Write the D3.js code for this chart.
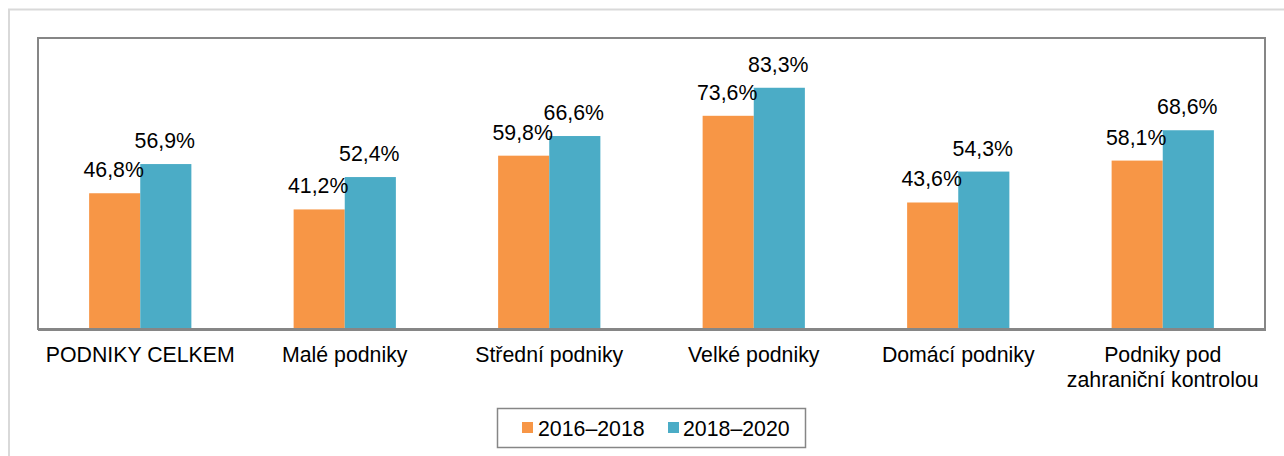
<!DOCTYPE html>
<html><head><meta charset="utf-8">
<script src="https://cdn.jsdelivr.net/npm/d3@7/dist/d3.min.js"></script>
<style>html,body{margin:0;padding:0;background:#fff;overflow:hidden}svg{display:block}text{font-family:"Liberation Sans",Arial,sans-serif;fill:#000}</style>
</head><body><svg id="c" width="1284" height="456"></svg>
<script>
const categories = [["PODNIKY CELKEM"],["Malé podniky"],["Střední podniky"],["Velké podniky"],["Domácí podniky"],["Podniky pod","zahraniční kontrolou"]];
const series1Name = "2016–2018";
const series2Name = "2018–2020";
const series1 = [46.8, 41.2, 59.8, 73.6, 43.6, 58.1];
const series2 = [56.9, 52.4, 66.6, 83.3, 54.3, 68.6];
const colors = ["#F79646", "#4BACC6"];
const FS = 21.3;

const svg = d3.select("#c");
// outer frame
svg.append("rect").attr("x",9).attr("y",9.5).attr("width",1300).attr("height",470)
  .attr("fill","none").attr("stroke","#d9d9d9").attr("stroke-width",2);

const L=38, R=1265, T=38, B=329;
const x = d3.scaleBand().domain(d3.range(categories.length)).range([L,R]).paddingInner(0.5).paddingOuter(0.25);
const xs = d3.scaleBand().domain([0,1]).range([0,x.bandwidth()]);
const y = d3.scaleLinear().domain([0,100]).range([B-0.5,T+1.5]);

svg.append("rect").attr("x",L).attr("y",T).attr("width",R-L).attr("height",B-T)
  .attr("fill","none").attr("stroke","#868686").attr("stroke-width",2);

const data = categories.map((c,i)=>({i, vals:[series1[i],series2[i]]}));
const g = svg.append("g");
data.forEach(d=>{
  d.vals.forEach((v,k)=>{
    g.append("rect").attr("x",x(d.i)+xs(k)).attr("width",xs.bandwidth())
      .attr("y",y(v)).attr("height",y(0)-y(v)).attr("fill",colors[k]);
  });
});
data.forEach(d=>{
  d.vals.forEach((v,k)=>{
    g.append("text").attr("x",x(d.i)+xs(k)+xs.bandwidth()/2-1).attr("y",y(v)-16)
      .attr("text-anchor","middle").attr("font-size",FS).text(d3.format(".1f")(v).replace(".",",")+"%");
  });
});
// axis line
svg.append("line").attr("x1",L).attr("x2",R+1).attr("y1",B+0.5).attr("y2",B+0.5).attr("stroke","#868686").attr("stroke-width",3);

// category labels
const xc = d3.scaleBand().domain(d3.range(categories.length)).range([L,R]);
categories.forEach((c,i)=>{
  const t = svg.append("text").attr("text-anchor","middle").attr("font-size",FS)
    .attr("x",xc(i)+xc.bandwidth()/2).attr("y",362);
  c.forEach((line,j)=>t.append("tspan").attr("x",xc(i)+xc.bandwidth()/2).attr("dy",j?25:0).text(line));
});

// legend
svg.append("rect").attr("x",497.5).attr("y",408.5).attr("width",308).attr("height",39)
  .attr("fill","#fff").attr("stroke","#868686").attr("stroke-width",1.5);
[[series1Name,522,538],[series2Name,668,683]].forEach(([n,sx,tx],k)=>{
  svg.append("rect").attr("x",sx).attr("y",422).attr("width",11).attr("height",11).attr("fill",colors[k]);
  svg.append("text").attr("x",tx).attr("y",436).attr("font-size",FS).text(n);
});
</script></body></html>
